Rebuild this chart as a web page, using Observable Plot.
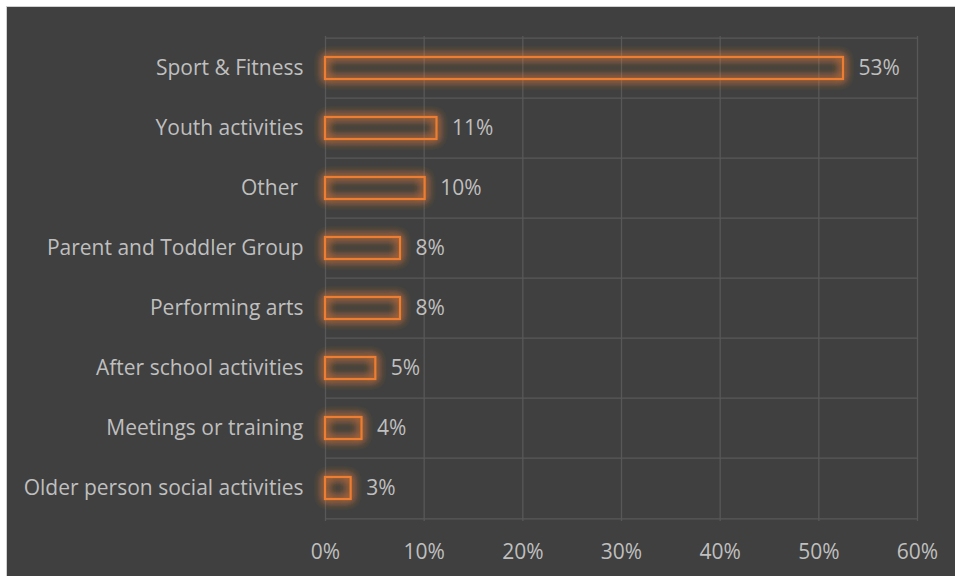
<!DOCTYPE html>
<html>
<head>
<meta charset="utf-8">
<script src="https://cdn.jsdelivr.net/npm/d3@7"></script>
<script src="https://cdn.jsdelivr.net/npm/@observablehq/plot@0.6"></script>
<style>
  html, body { margin: 0; padding: 0; background: #ffffff; }
  #wrap {
    position: absolute; left: 6px; top: 6px;
    width: 949px; height: 570px;
    background: #404040;
    border-left: 1px solid #d0d0d0; border-top: 1px solid #d0d0d0;
    overflow: hidden;
  }
  #wrap svg { display: block; }
  #wrap text { white-space: pre; }
</style>
</head>
<body>
<div id="wrap"></div>
<script>
const categories = [
  "Sport & Fitness",
  "Youth activities",
  "Other ",
  "Parent and Toddler Group",
  "Performing arts",
  "After school activities",
  "Meetings or training",
  "Older person social activities"
];
const shares = [52.5, 11.3, 10.1, 7.6, 7.6, 5.1, 3.7, 2.6];
const xTicks = [0, 10, 20, 30, 40, 50, 60];

const data = categories.map((c, i) => ({category: c, value: shares[i]}));

const W = 948, H = 569;
const mT = 29, mB = 55, mL = 318, mR = 38;
const step = (H - mT - mB) / categories.length;
const FONT = "'Open Sans', 'Noto Sans', sans-serif";
const FS = 21;
const TXT = "#bfbfbf";
const GRID = "#585858";

const chart = Plot.plot({
  width: W, height: H,
  marginTop: mT, marginBottom: mB, marginLeft: mL, marginRight: mR,
  style: {background: "transparent", color: TXT, fontFamily: FONT, fontSize: FS + "px"},
  x: {domain: [0, 60], ticks: xTicks, tickFormat: d => d + "%", label: null},
  y: {domain: categories, paddingInner: 0.63, paddingOuter: 0.315, label: null},
  marks: [
    Plot.gridX(xTicks, {stroke: GRID, strokeOpacity: 1, strokeWidth: 1.3}),
    Plot.ruleY(categories, {y: d => d, dy: -step / 2, stroke: GRID, strokeWidth: 1.3}),
    Plot.ruleY(categories.slice(-1), {y: d => d, dy: step / 2, stroke: GRID, strokeWidth: 1.3}),
    Plot.axisX({ticks: xTicks, tickFormat: d => d + "%", tickSize: 0, tickPadding: 23, fontSize: FS, fill: TXT, label: null}),
    Plot.axisY({tickSize: 0, tickPadding: 22, fontSize: FS, fill: TXT, label: null}),
    Plot.barX(data, {x: "value", y: "category", fill: "none", stroke: "#ED7D31", strokeWidth: 2.2}),
    Plot.text(data, {x: "value", y: "category", text: d => Math.round(d.value) + "%", dx: 15, textAnchor: "start", fill: TXT, fontSize: FS})
  ]
});

// glow filter for the bars
const svg = d3.select(chart);
const defs = svg.insert("defs", ":first-child");
const f = defs.append("filter").attr("id", "barglow")
  .attr("filterUnits", "userSpaceOnUse")
  .attr("x", 0).attr("y", 0).attr("width", W).attr("height", H);
f.append("feGaussianBlur").attr("in", "SourceGraphic").attr("stdDeviation", 5).attr("result", "b");
f.append("feComponentTransfer").attr("in", "b").attr("result", "b2")
  .append("feFuncA").attr("type", "linear").attr("slope", 0.85);
const m = f.append("feMerge");
m.append("feMergeNode").attr("in", "b2");
m.append("feMergeNode").attr("in", "b2");
m.append("feMergeNode").attr("in", "b2");
m.append("feMergeNode").attr("in", "SourceGraphic");
svg.selectAll("rect").filter(function() {
  const s = this.getAttribute("stroke") || (this.parentNode && this.parentNode.getAttribute("stroke"));
  return s && s.toLowerCase() === "#ed7d31";
}).attr("filter", "url(#barglow)");
svg.selectAll("text").attr("xml:space", "preserve");

document.getElementById("wrap").appendChild(chart);
</script>
</body>
</html>
